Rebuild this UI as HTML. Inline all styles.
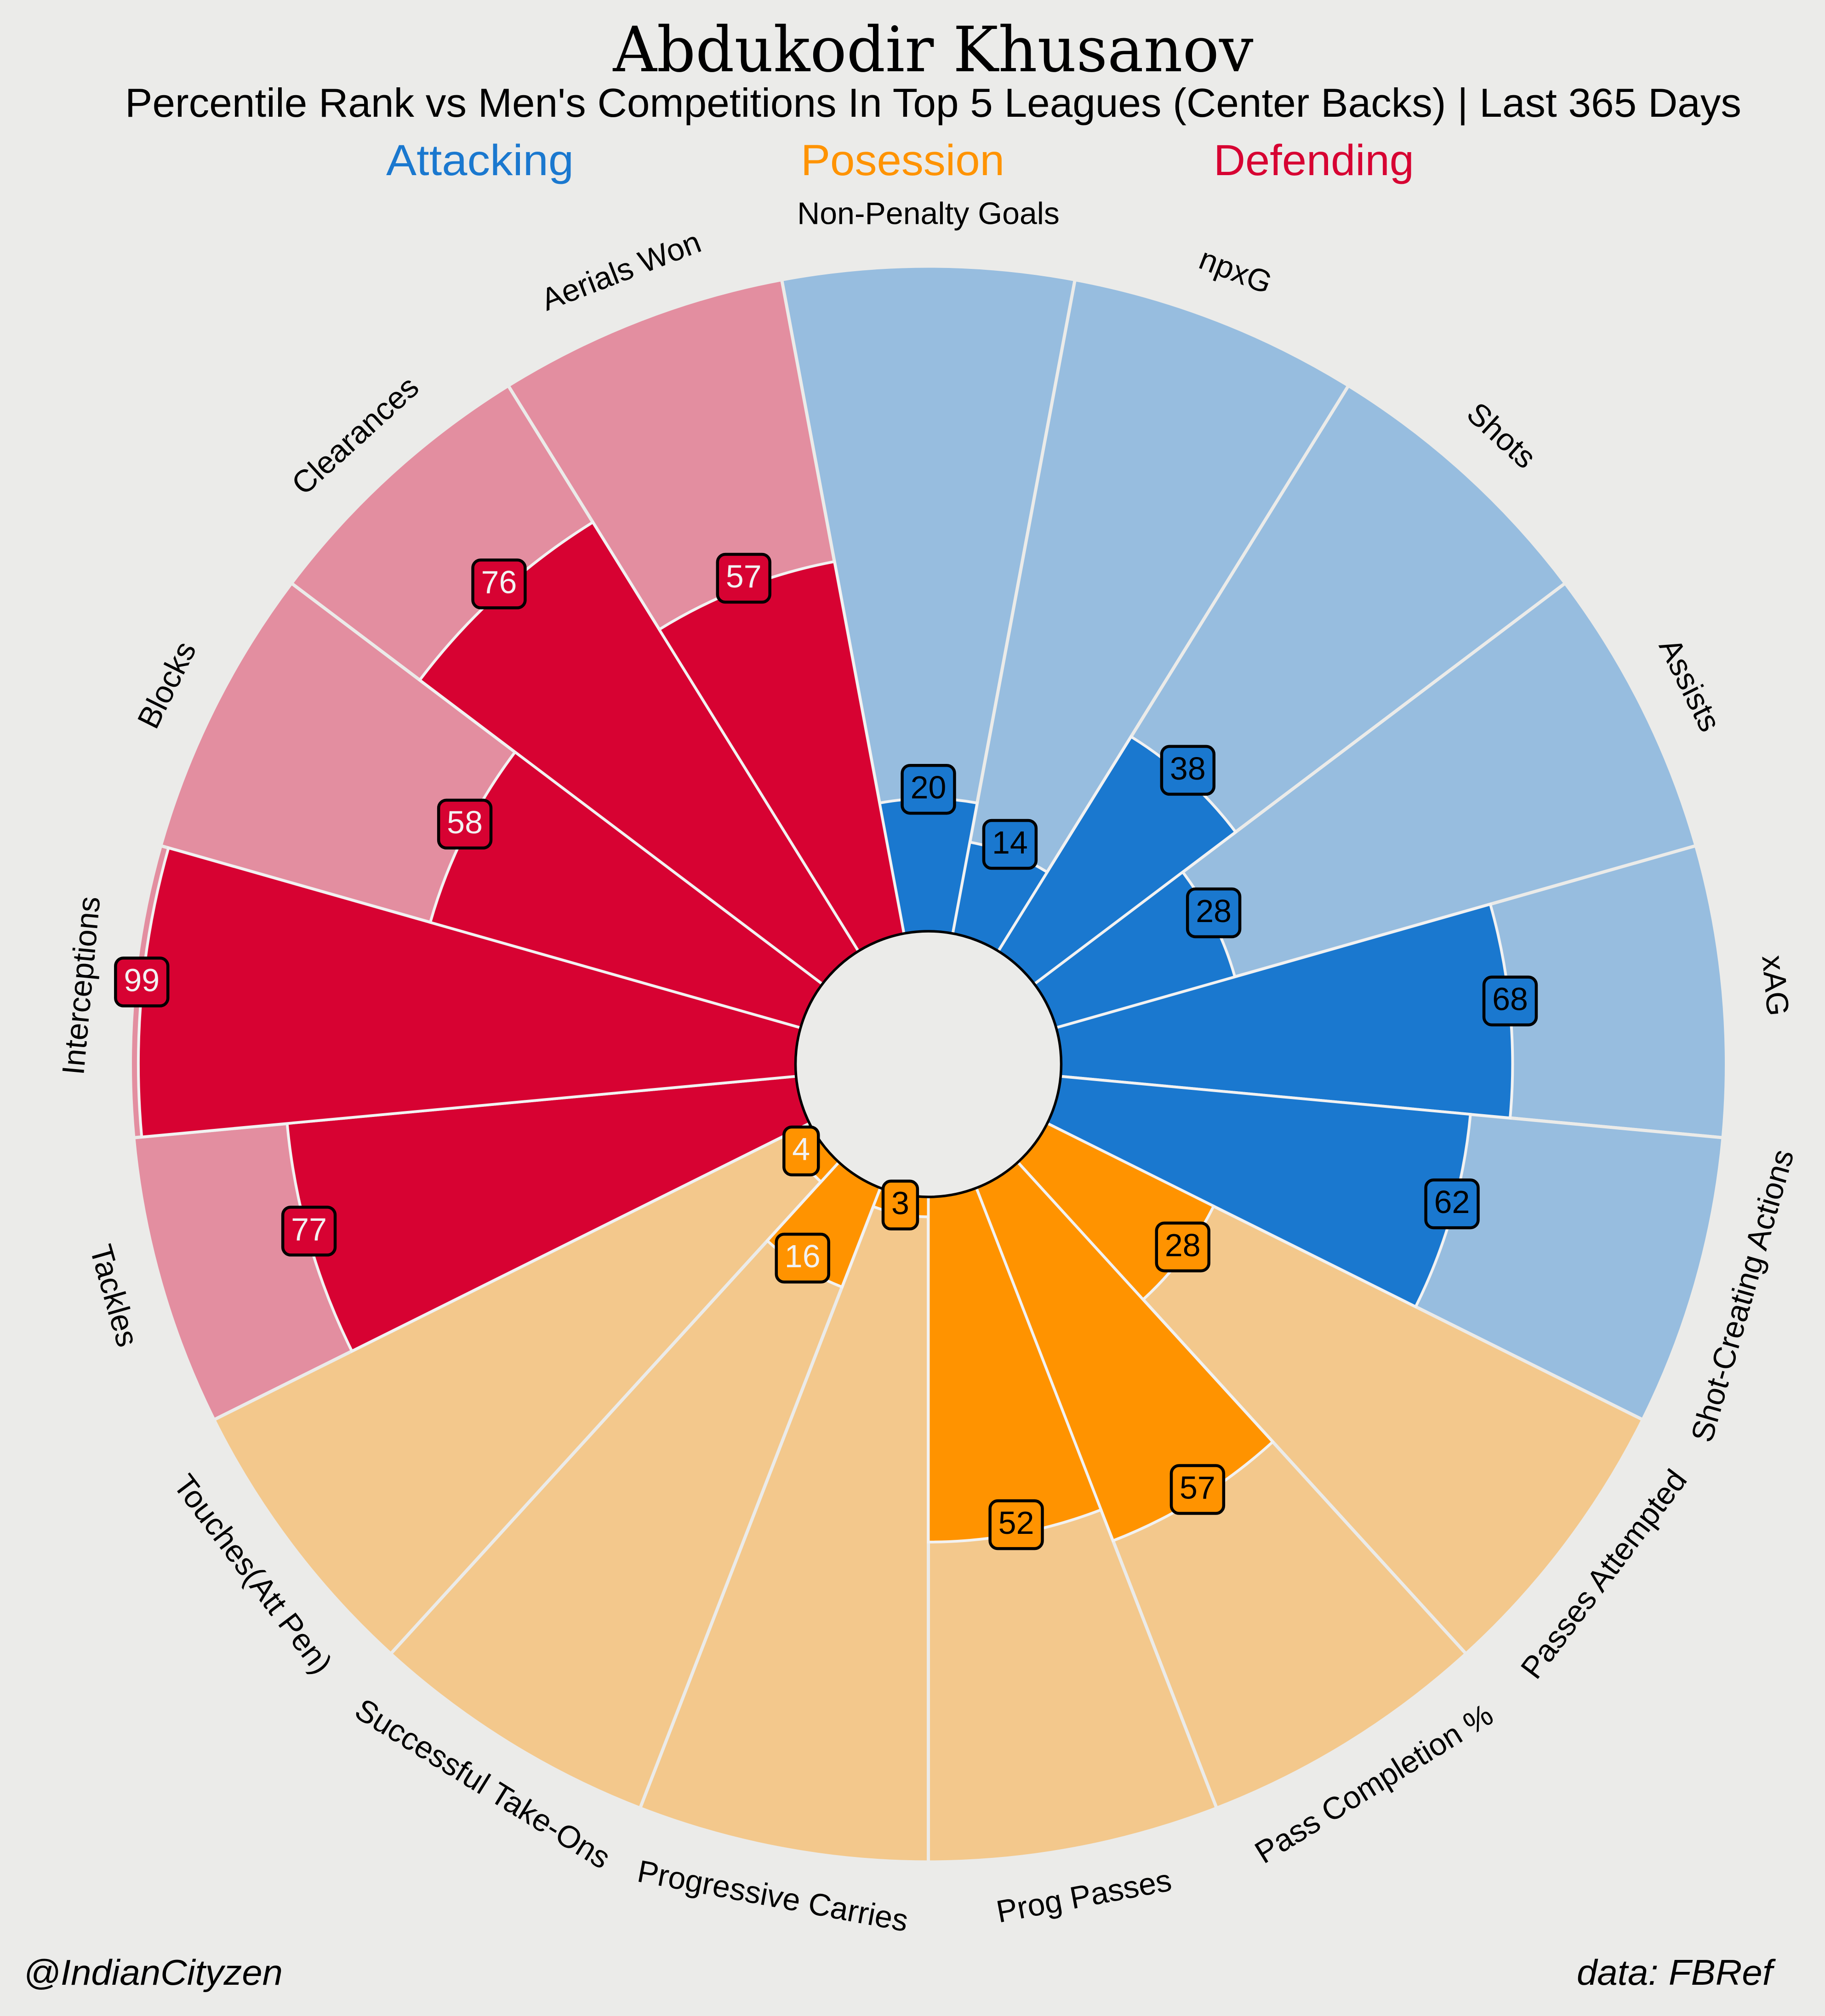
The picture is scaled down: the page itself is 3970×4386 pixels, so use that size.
<!DOCTYPE html>
<html lang="en">
<head>
<meta charset="utf-8">
<title>Abdukodir Khusanov percentile pizza chart</title>
<style>
html,body{margin:0;padding:0;background:#EBEBE9;}
svg{display:block;}
text{font-family:"Liberation Sans",sans-serif;fill:#000;}
</style>
</head>
<body>
<svg id="chart" xmlns="http://www.w3.org/2000/svg" width="3970" height="4386" viewBox="0 0 3970 4386">
<rect x="0" y="0" width="3970" height="4386" fill="#EBEBE9"/>
<text x="2030" y="155" text-anchor="middle" font-size="136" textLength="1393" lengthAdjust="spacingAndGlyphs" style="font-family:'DejaVu Serif',serif">Abdukodir Khusanov</text>
<text x="2030" y="254" text-anchor="middle" font-size="88" textLength="3516" lengthAdjust="spacingAndGlyphs">Percentile Rank vs Men's Competitions In Top 5 Leagues (Center Backs) | Last 365 Days</text>
<text x="840" y="381" font-size="95" textLength="408" lengthAdjust="spacingAndGlyphs" style="fill:#1A78CF">Attacking</text>
<text x="1742" y="381" font-size="95" textLength="443" lengthAdjust="spacingAndGlyphs" style="fill:#FF9300">Posession</text>
<text x="2640" y="381" font-size="95" textLength="436" lengthAdjust="spacingAndGlyphs" style="fill:#D70232">Defending</text>
<g id="slices"></g>
<g id="bars"></g>
<circle cx="2019.5" cy="2315" r="289" fill="#EBEBE9" stroke="#000" stroke-width="5.5"/>
<g id="param-labels"></g>
<g id="value-labels"></g>
<text x="51" y="4318" font-size="78" font-style="italic" textLength="564" lengthAdjust="spacingAndGlyphs">@IndianCityzen</text>
<text x="3430" y="4318" font-size="78" font-style="italic" textLength="426" lengthAdjust="spacingAndGlyphs">data: FBRef</text>
</svg>
<script>
const params = ["Non-Penalty Goals","npxG","Shots","Assists","xAG","Shot-Creating Actions","Passes Attempted","Pass Completion %","Prog Passes","Progressive Carries","Successful Take-Ons","Touches(Att Pen)","Tackles","Interceptions","Blocks","Clearances","Aerials Won"];
const values = [20,14,38,28,68,62,28,57,52,3,16,4,77,99,58,76,57];
const groups = ["attacking","attacking","attacking","attacking","attacking","attacking","possession","possession","possession","possession","possession","possession","defending","defending","defending","defending","defending"];
const lightInkParams = ["Successful Take-Ons","Touches(Att Pen)"];

const SVGNS = "http://www.w3.org/2000/svg";
const CX = 2019.5, CY = 2315, R_INNER = 289, R_OUTER = 1733, R_LABEL = 1846, SLICE_STROKE_ALLOWANCE = 3;
const STEP = 360 / params.length;
const fullColor = {attacking:"#1A78CF", possession:"#FF9300", defending:"#D70232"};
const softColor = {attacking:"#97BDDF", possession:"#F3C88C", defending:"#E38EA0"};

function radiusScale(v){ return R_INNER + (R_OUTER - R_INNER) * v / 100; }
function angleScale(i){ return i * STEP; }
function polar(angleDeg, r){
  const a = angleDeg * Math.PI / 180;
  return [CX + r * Math.sin(a), CY - r * Math.cos(a)];
}
function wedgePath(i, r){
  const a0 = angleScale(i) - STEP / 2, a1 = angleScale(i) + STEP / 2;
  const p0 = polar(a0, r), p1 = polar(a1, r);
  return "M" + CX + " " + CY + "L" + p0[0].toFixed(2) + " " + p0[1].toFixed(2) +
         "A" + r + " " + r + " 0 0 1 " + p1[0].toFixed(2) + " " + p1[1].toFixed(2) + "Z";
}
function slug(s){ return s.toLowerCase().replace(/[^a-z0-9]+/g, "-").replace(/^-|-$/g, ""); }

const sliceLayer = document.getElementById("slices");
const barLayer = document.getElementById("bars");
const paramLayer = document.getElementById("param-labels");
const valueLayer = document.getElementById("value-labels");

params.forEach(function(name, i){
  const key = slug(name);
  const slice = document.createElementNS(SVGNS, "path");
  slice.setAttribute("d", wedgePath(i, radiusScale(100) + SLICE_STROKE_ALLOWANCE));
  slice.setAttribute("fill", softColor[groups[i]]);
  slice.setAttribute("stroke", "#EBEBE9");
  slice.setAttribute("stroke-width", "7");
  
  
  sliceLayer.appendChild(slice);
});

params.forEach(function(name, i){
  const key = slug(name);
  const bar = document.createElementNS(SVGNS, "path");
  bar.setAttribute("d", wedgePath(i, radiusScale(values[i])));
  bar.setAttribute("fill", fullColor[groups[i]]);
  bar.setAttribute("stroke", "#F2F2F2");
  bar.setAttribute("stroke-width", "6");
  
  
  barLayer.appendChild(bar);
});

params.forEach(function(name, i){
  const key = slug(name);
  const angle = angleScale(i);
  const pos = polar(angle, R_LABEL);
  const rot = (angle > 90 && angle < 270) ? angle - 180 : angle;
  const label = document.createElementNS(SVGNS, "text");
  label.setAttribute("transform", "translate(" + pos[0].toFixed(2) + " " + pos[1].toFixed(2) + ") rotate(" + rot.toFixed(2) + ")");
  label.setAttribute("text-anchor", "middle");
  label.setAttribute("font-size", "68");
  label.setAttribute("dy", "0.27em");
  
  
  label.textContent = name;
  paramLayer.appendChild(label);
});

params.forEach(function(name, i){
  const key = slug(name);
  const pos = polar(angleScale(i), radiusScale(values[i]));
  const group = document.createElementNS(SVGNS, "g");
  
  

  const txt = document.createElementNS(SVGNS, "text");
  txt.setAttribute("x", pos[0].toFixed(2));
  txt.setAttribute("y", pos[1].toFixed(2));
  txt.setAttribute("text-anchor", "middle");
  txt.setAttribute("font-size", "70");
  const light = groups[i] === "defending" || lightInkParams.indexOf(name) >= 0;
  txt.style.fill = light ? "#F2F2F2" : "#000000";
  
  
  txt.textContent = String(values[i]);

  const box = document.createElementNS(SVGNS, "rect");
  box.setAttribute("fill", fullColor[groups[i]]);
  box.setAttribute("stroke", "#000");
  box.setAttribute("stroke-width", "6.5");
  box.setAttribute("rx", "17");
  box.setAttribute("ry", "17");
  box.setAttribute("y", (pos[1] - 72).toFixed(2));
  box.setAttribute("height", "104");
  
  

  group.appendChild(box);
  group.appendChild(txt);
  valueLayer.appendChild(group);

  const w = txt.getComputedTextLength() + 36;
  box.setAttribute("x", (pos[0] - w / 2).toFixed(2));
  box.setAttribute("width", w.toFixed(2));
});
</script>
</body>
</html>
